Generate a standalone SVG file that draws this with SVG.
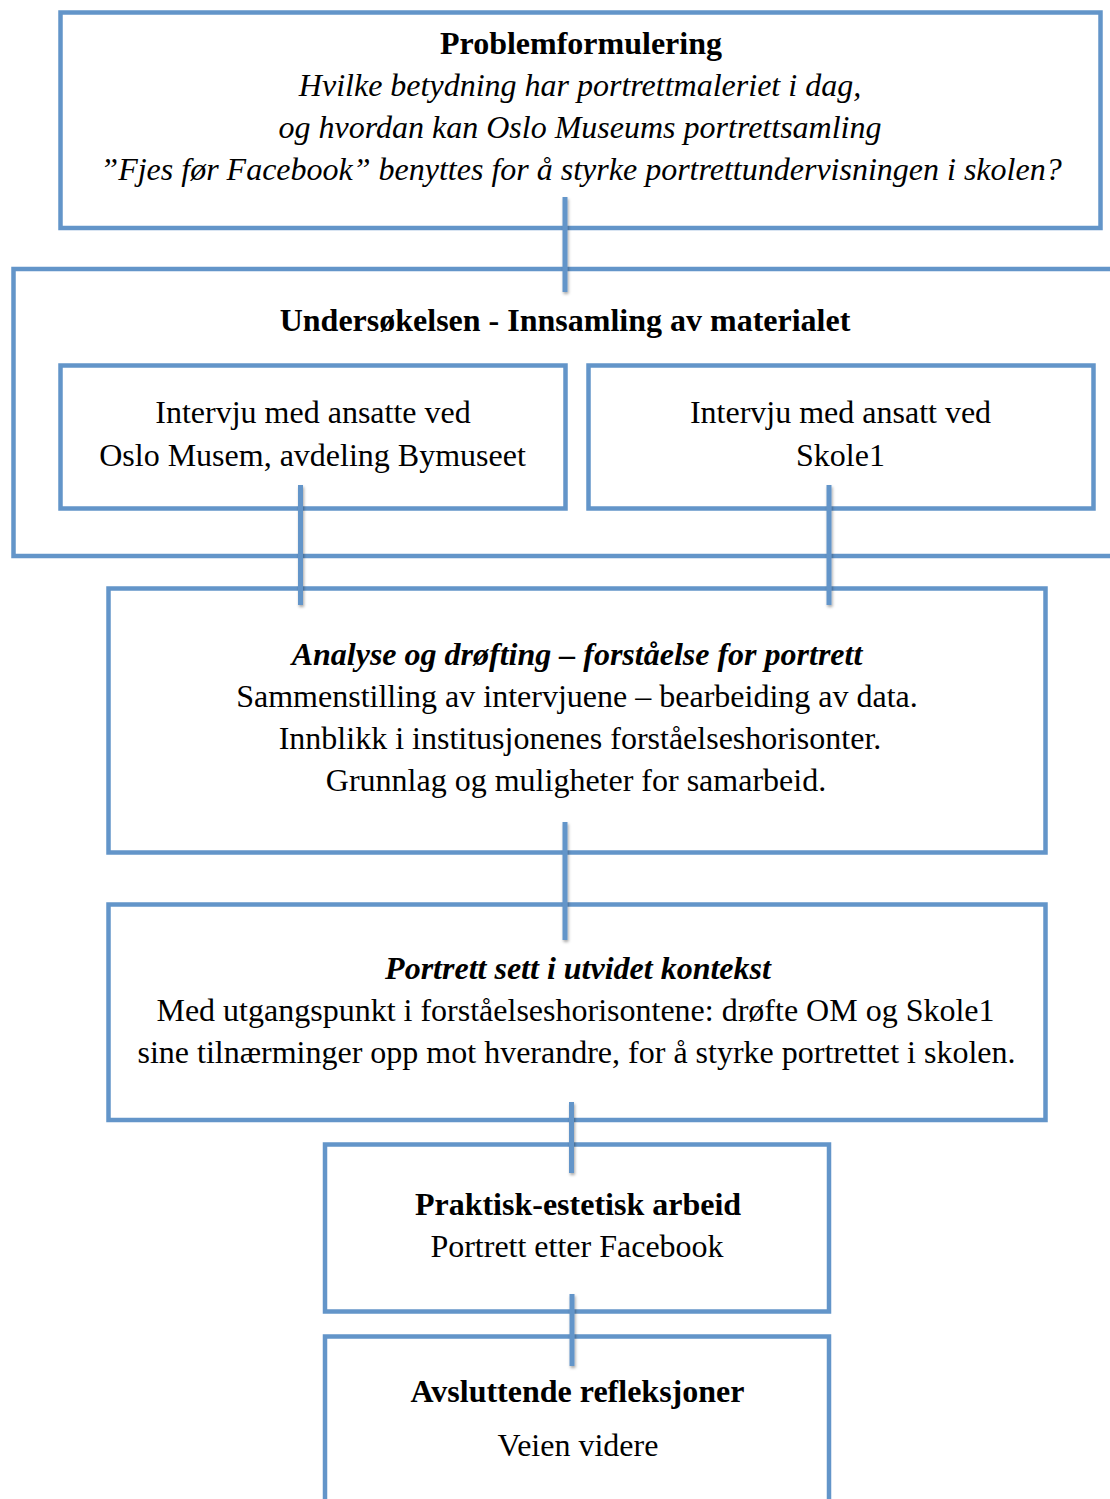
<svg xmlns="http://www.w3.org/2000/svg" width="1110" height="1499" viewBox="0 0 1110 1499">
<style>
.box{fill:none;stroke:#6395C9;stroke-width:4.5}
.con{stroke:#6395C9;stroke-width:5;fill:none}
text{font-family:"Liberation Serif","Times New Roman",serif;font-size:32px;fill:#000;text-anchor:middle}
.b{font-weight:bold}
.i{font-style:italic}
</style>
<defs>
<filter id="sh" x="-50%" y="-10%" width="200%" height="120%">
<feDropShadow dx="1" dy="2" stdDeviation="1.5" flood-color="#000" flood-opacity="0.35"/>
</filter>
</defs>
<rect width="1110" height="1499" fill="#fff"/>
<g id="node-problem">
<rect class="box" x="60.5" y="12.5" width="1040" height="215.5"/>
<text x="581" y="54" class="b">Problemformulering</text>
<text x="580" y="96" class="i">Hvilke betydning har portrettmaleriet i dag,</text>
<text x="580" y="138" class="i">og hvordan kan Oslo Museums portrettsamling</text>
<text x="581" y="180" class="i">”Fjes før Facebook” benyttes for å styrke portrettundervisningen i skolen?</text>
</g>
<g id="node-undersokelsen">
<rect class="box" x="13.5" y="269" width="1110" height="287"/>
<text x="565" y="331" class="b">Undersøkelsen - Innsamling av materialet</text>
</g>
<g id="node-intervju-om">
<rect class="box" x="60.5" y="365.5" width="505" height="143"/>
<text x="313" y="423">Intervju med ansatte ved</text>
<text x="312.5" y="466">Oslo Musem, avdeling Bymuseet</text>
</g>
<g id="node-intervju-skole">
<rect class="box" x="588.5" y="365.5" width="505" height="143"/>
<text x="840.5" y="423">Intervju med ansatt ved</text>
<text x="840.5" y="466">Skole1</text>
</g>
<g id="node-analyse">
<rect class="box" x="108.5" y="588.5" width="937" height="264"/>
<text x="577" y="665" class="b i">Analyse og drøfting – forståelse for portrett</text>
<text x="577" y="707">Sammenstilling av intervjuene – bearbeiding av data.</text>
<text x="580" y="749">Innblikk i institusjonenes forståelseshorisonter.</text>
<text x="576" y="791">Grunnlag og muligheter for samarbeid.</text>
</g>
<g id="node-portrett">
<rect class="box" x="108.5" y="904.5" width="937" height="215.5"/>
<text x="578" y="979" class="b i">Portrett sett i utvidet kontekst</text>
<text x="575.5" y="1021">Med utgangspunkt i forståelseshorisontene: drøfte OM og Skole1</text>
<text x="576.5" y="1063">sine tilnærminger opp mot hverandre, for å styrke portrettet i skolen.</text>
</g>
<g id="node-praktisk">
<rect class="box" x="325" y="1144.5" width="504" height="167"/>
<text x="578" y="1215" class="b">Praktisk-estetisk arbeid</text>
<text x="577" y="1257">Portrett etter Facebook</text>
</g>
<g id="node-avsluttende">
<rect class="box" x="325" y="1336.5" width="504" height="200"/>
<text x="577.5" y="1402" class="b">Avsluttende refleksjoner</text>
<text x="578" y="1456">Veien videre</text>
</g>
<g id="connectors" filter="url(#sh)">
<line class="con" x1="565" y1="197" x2="565" y2="292"/>
<line class="con" x1="300.5" y1="485" x2="300.5" y2="605"/>
<line class="con" x1="829" y1="485" x2="829" y2="605"/>
<line class="con" x1="565" y1="822" x2="565" y2="940"/>
<line class="con" x1="571.5" y1="1102" x2="571.5" y2="1173"/>
<line class="con" x1="572" y1="1294" x2="572" y2="1366"/>
</g>
</svg>
